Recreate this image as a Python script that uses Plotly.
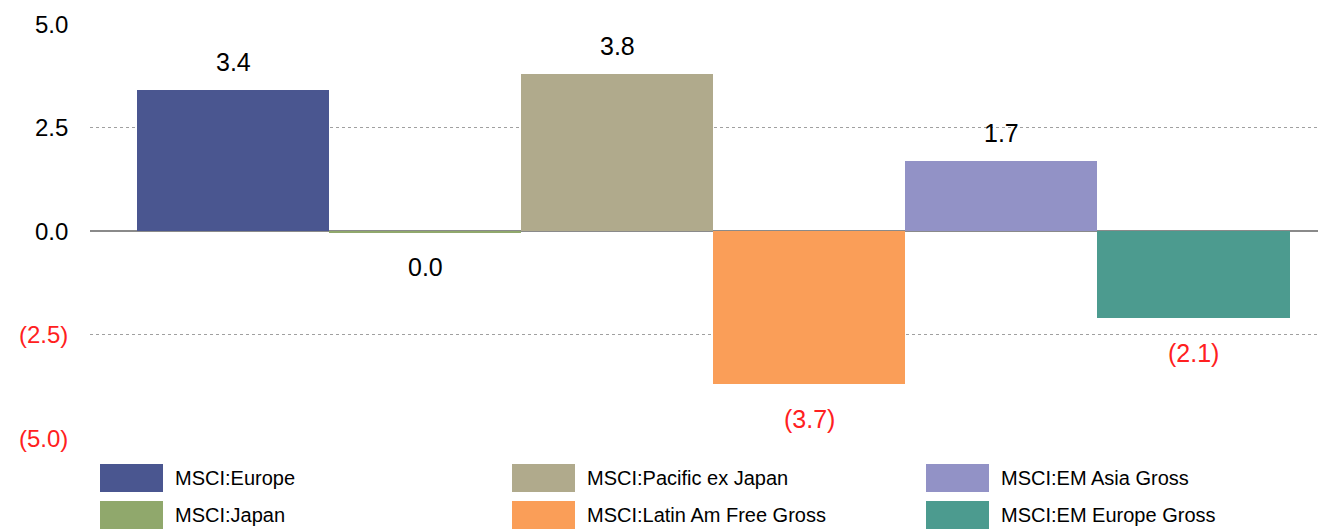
import plotly.graph_objects as go

names = ["MSCI:Europe", "MSCI:Japan", "MSCI:Pacific ex Japan",
         "MSCI:Latin Am Free Gross", "MSCI:EM Asia Gross", "MSCI:EM Europe Gross"]
values = [3.4, -0.03, 3.8, -3.7, 1.7, -2.1]
labels = ["3.4", "0.0", "3.8", "(3.7)", "1.7", "(2.1)"]
label_colors = ["#000000", "#000000", "#000000", "#ff2020", "#000000", "#ff2020"]
colors = ["#4a5690", "#90a86c", "#b0aa8c", "#fa9e58", "#9292c6", "#4c9b8f"]
tick_vals = [-5, -2.5, 0, 2.5, 5]
tick_text = ["(5.0)", "(2.5)", "0.0", "2.5", "5.0"]
tick_colors = ["#ff2020", "#ff2020", "#000000", "#000000", "#000000"]
grid_vals = [-2.5, 2.5]
legend_order = [0, 2, 4, 1, 3, 5]  # row-major display in 3 columns

FONT = "Liberation Sans, Arial, sans-serif"

fig = go.Figure()
for i, (n, v, c) in enumerate(zip(names, values, colors)):
    fig.add_trace(go.Bar(x=[i], y=[v], name=n, marker=dict(color=c, line=dict(width=0)),
                         width=1.0, showlegend=False, hoverinfo="name+y"))

# invisible trace for overlay grid axis
fig.add_trace(go.Scatter(x=[0], y=[0], yaxis="y2", mode="markers",
                         marker=dict(opacity=0), showlegend=False, hoverinfo="skip"))

annotations = []
for i, (v, t, tc) in enumerate(zip(values, labels, label_colors)):
    pos = v > 0
    annotations.append(dict(x=i, y=v, xref="x", yref="y", text=t, showarrow=False,
                            yanchor="bottom" if pos else "top",
                            yshift=12 if pos else -19,
                            font=dict(family=FONT, size=25, color=tc)))

# tick labels with individual colors
for tv, tt, tc in zip(tick_vals, tick_text, tick_colors):
    annotations.append(dict(x=0, y=tv, xref="paper", yref="y", text=tt, showarrow=False,
                            xanchor="right", xshift=-20,
                            font=dict(family=FONT, size=24, color=tc)))

# custom legend (3 columns x 2 rows) with large swatches
# positions in screen pixels; plot area spans x 90..1326, y 24..438
plot_w = 1326 - 90
plot_h = 414
col_px = [100, 512, 926]
row_px = [464, 501]
sw_w, sw_h = 63, 28
shapes = []
for k, idx in enumerate(legend_order):
    col = k % 3
    row = k // 3
    x0 = (col_px[col] - 90) / plot_w
    x1 = (col_px[col] + sw_w - 90) / plot_w
    y0 = (438 - row_px[row]) / plot_h
    y1 = (438 - row_px[row] - sw_h) / plot_h
    shapes.append(dict(type="rect", xref="paper", yref="paper", x0=x0, x1=x1,
                       y0=y1, y1=y0, fillcolor=colors[idx], line=dict(width=0)))
    annotations.append(dict(x=(col_px[col] + 73 - 90) / plot_w, y=(y0 + y1) / 2,
                            xref="paper", yref="paper", text=names[idx], showarrow=False,
                            xanchor="left", yanchor="middle",
                            font=dict(family=FONT, size=20, color="#000000")))

fig.update_layout(
    width=1318, height=521,
    margin=dict(l=82, r=0, t=16, b=91),
    paper_bgcolor="white", plot_bgcolor="white",
    barmode="overlay", bargap=0,
    showlegend=False,
    xaxis=dict(range=[-0.745, 5.69], showgrid=False, zeroline=False,
               showticklabels=False, showline=False, fixedrange=True),
    yaxis=dict(range=[-5, 5], tickvals=tick_vals, showticklabels=False,
               showgrid=False, zeroline=True, zerolinecolor="#8a8a8a",
               zerolinewidth=1.5, showline=False),
    yaxis2=dict(range=[-5, 5], overlaying="y", tickvals=grid_vals, showticklabels=False,
                showgrid=True, gridcolor="#a0a0a0", griddash="dot", gridwidth=1,
                zeroline=False, showline=False, side="left"),
    annotations=annotations,
    shapes=shapes,
)

fig.write_html("out.html")
